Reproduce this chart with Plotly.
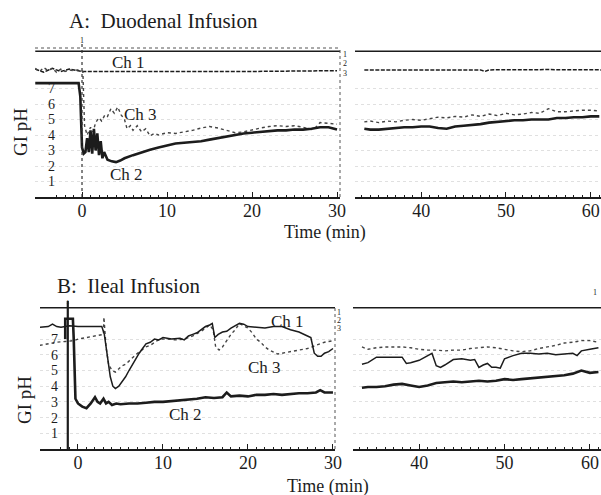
import plotly.graph_objects as go

# ---------------- data ----------------
# Panel A: Duodenal infusion, left segment (-5 .. 30 min)
a_ch2_t = [-5.5, -0.4, -0.2, 0.0, 0.2, 0.4, 0.6, 0.8, 1.0, 1.2,
           1.4, 1.6, 1.8, 2.0, 2.2, 2.4, 2.6, 3.0, 3.5, 4.0,
           4.5, 5.0, 6, 7, 8, 9, 10, 11, 12, 13,
           14, 15, 16, 17, 18, 19, 20, 21, 22, 23,
           24, 25, 26, 27, 28, 29, 30]
a_ch2 = [7.35, 7.35, 6.5, 3.2, 2.8, 2.9, 3.8, 2.9, 4.3, 2.8,
         4.4, 3.0, 4.1, 2.7, 3.6, 2.5, 2.9, 2.4, 2.3, 2.25,
         2.35, 2.5, 2.7, 2.9, 3.05, 3.2, 3.35, 3.45, 3.5, 3.55,
         3.6, 3.7, 3.8, 3.9, 4.0, 4.1, 4.15, 4.2, 4.25, 4.3,
         4.3, 4.35, 4.35, 4.4, 4.5, 4.5, 4.35]
a_ch3_t = [-5.5, -5, -4.5, -4, -3.5, -3, -2.5, -2, -1.5, -1,
           -0.5, 0.1, 0.3, 0.6, 1.0, 1.3, 1.6, 2.0, 2.3, 2.7,
           3.0, 3.4, 3.8, 4.2, 4.6, 5.0, 5.3, 5.7, 6.0, 6.5,
           7.0, 7.5, 8.0, 8.5, 9, 10, 11, 12, 13, 14,
           15, 16, 17, 18, 19, 20, 21, 22, 23, 24,
           25, 26, 27, 27.5, 28, 29, 30]
a_ch3 = [8.3, 8.1, 8.35, 8.15, 8.3, 8.05, 8.25, 8.1, 8.2, 8.15,
         8.2, 8.1, 4.6, 4.0, 4.5, 4.2, 4.8, 5.1, 4.9, 5.3,
         5.2, 5.7, 5.4, 5.8, 5.3, 5.0, 4.4, 4.6, 4.3, 4.6,
         4.2, 4.4, 3.95, 4.1, 4.0, 4.15, 4.1, 4.2, 4.3, 4.45,
         4.55, 4.45, 4.3, 4.15, 4.2, 4.35, 4.45, 4.55, 4.6, 4.55,
         4.6, 4.5, 4.35, 4.5, 4.8, 4.75, 4.7]
a_ch1_t = [-5.5, -4.5, -3.5, -2.5, -1.5, -0.5, 0, 5, 10, 15, 20, 25, 30]
a_ch1 = [8.25, 8.05, 8.3, 8.1, 8.25, 8.15, 8.1, 8.1, 8.12, 8.1, 8.1, 8.12, 8.15]

# Panel A right segment (33 .. 61 min)
late_t = [33.3, 34, 35, 36, 37, 38, 39, 40, 41, 42,
          43, 44, 45, 46, 47, 48, 49, 50, 51, 52,
          53, 54, 55, 56, 57, 58, 59, 60, 61]
a_ch2_late = [4.4, 4.35, 4.35, 4.4, 4.45, 4.5, 4.5, 4.55, 4.55, 4.45,
              4.4, 4.55, 4.6, 4.65, 4.7, 4.8, 4.85, 4.9, 4.95, 4.95,
              5.0, 5.0, 5.0, 5.1, 5.1, 5.15, 5.15, 5.2, 5.2]
a_ch3_late = [4.85, 4.9, 4.8, 4.9, 4.85, 4.95, 5.0, 4.95, 5.05, 5.15,
              5.1, 5.2, 5.15, 5.3, 5.2, 5.35, 5.25, 5.4, 5.3, 5.35,
              5.45, 5.4, 5.7, 5.5, 5.5, 5.55, 5.6, 5.6, 5.55]
a_ch1_late_t = [33.3, 40, 47, 47.5, 48, 55, 61.5]
a_ch1_late = [8.2, 8.22, 8.2, 8.1, 8.2, 8.22, 8.2]

# Panel B: Ileal infusion, left segment
b_ch1_t = [-4.5, -3.5, -3, -2.5, -2, -1, 0, 1, 2, 2.8,
           3.1, 3.4, 3.8, 4.1, 4.4, 4.8, 5.2, 5.6, 6.0, 6.4,
           6.8, 7.2, 7.6, 8.0, 8.5, 9.0, 9.5, 10, 11, 12,
           12.5, 13, 13.5, 14, 14.5, 15, 15.5, 15.8, 16.1, 16.5,
           17, 17.5, 18, 18.5, 19, 19.5, 20, 21, 22, 23,
           24, 25, 26, 27, 27.4, 27.8, 28.2, 28.6, 29, 29.5,
           30]
b_ch1 = [7.75, 7.8, 7.95, 7.8, 7.75, 7.85, 7.8, 7.8, 7.82, 7.8,
         7.3, 6.2, 4.6, 4.0, 3.85, 4.0, 4.3, 4.6, 5.0, 5.4,
         5.8, 6.1, 6.4, 6.7, 6.8, 7.0, 6.95, 7.1, 7.0, 7.05,
         6.95, 7.2, 7.3, 7.4, 7.6, 7.8, 7.9, 8.0, 7.1, 7.3,
         7.45, 7.5, 7.7, 7.85, 8.0, 7.95, 7.8, 7.75, 7.7, 7.8,
         7.8, 7.6, 7.45, 7.2, 7.1, 6.1, 5.9, 5.9, 6.1, 6.2,
         6.4]
b_ch3_t = [-4.5, -3.5, -2.5, -1.5, -0.5, 0, 1, 2, 2.6, 3.0,
           3.05, 3.3, 3.6, 4.0, 4.4, 4.8, 5.2, 5.6, 6.0, 6.5,
           7.0, 7.5, 8.0, 8.5, 9.0, 9.6, 10.5, 11.5, 12.5, 13.5,
           14.5, 15.0, 15.5, 15.9, 16.2, 16.6, 17.0, 17.5, 18.0, 18.5,
           19.0, 19.5, 20.0, 20.5, 21.0, 21.5, 22.0, 22.5, 23.0, 23.5,
           24, 25, 26, 27, 28, 29, 30]
b_ch3 = [6.6, 6.7, 6.8, 6.85, 6.9, 7.0, 7.1, 7.2, 7.3, 7.3,
         8.4, 6.5, 5.4, 5.0, 4.9, 5.1, 5.3, 5.4, 5.6, 5.9,
         6.1, 6.3, 6.5, 6.6, 6.8, 7.0, 7.0, 6.95, 7.0, 7.2,
         7.5, 7.7, 7.9, 7.6, 6.5, 6.3, 6.5, 6.9, 7.3, 7.6,
         8.0, 7.85, 7.7, 7.4, 7.0, 6.8, 6.5, 6.3, 6.15, 6.05,
         6.1, 6.2, 6.3, 6.4, 6.6, 6.8, 6.9]
b_ch2_t = [-1.5, -1.5, -0.6, -0.5, -0.3, 0, 0.5, 1.0, 1.5, 2.0,
           2.3, 2.6, 3.0, 3.3, 3.6, 4.0, 4.5, 5, 6, 7,
           8, 9, 10, 11, 12, 13, 14, 15, 16, 17,
           17.5, 18, 19, 20, 21, 22, 23, 24, 25, 26,
           27, 28, 28.5, 29, 30]
b_ch2 = [7.0, 8.3, 8.3, 7.0, 3.2, 2.9, 2.7, 2.6, 2.9, 3.3,
         3.0, 2.9, 3.2, 2.9, 3.0, 2.8, 2.9, 2.85, 2.9, 2.9,
         2.95, 3.0, 3.0, 3.05, 3.1, 3.15, 3.2, 3.3, 3.25, 3.3,
         3.6, 3.35, 3.4, 3.35, 3.45, 3.45, 3.5, 3.45, 3.5, 3.55,
         3.55, 3.6, 3.75, 3.6, 3.6]

# Panel B right segment
b_ch1_late_t = [33.3, 34, 35, 36, 37, 38, 38.5, 39, 40, 41,
                41.5, 42, 42.5, 43, 44, 45, 46, 46.5, 47, 47.5,
                48, 48.5, 49, 49.5, 50, 51, 52, 53, 54, 55,
                56, 57, 58, 58.5, 59, 60, 61]
b_ch1_late = [5.4, 5.5, 5.85, 5.85, 5.85, 5.85, 5.45, 5.5, 5.65, 5.95,
              6.1, 5.3, 5.2, 5.35, 5.7, 5.75, 5.65, 5.7, 5.2, 5.35,
              5.45, 5.2, 5.2, 5.15, 5.75, 5.95, 6.1, 6.1, 6.05, 6.1,
              6.0, 6.05, 6.1, 5.95, 6.25, 6.35, 6.45]
b_ch3_late = [6.5, 6.35, 6.45, 6.5, 6.5, 6.5, 6.45, 6.35, 6.3, 6.3,
              6.25, 6.3, 6.3, 6.4, 6.45, 6.5, 6.45, 6.35, 6.25, 6.2,
              6.25, 6.4, 6.5, 6.6, 6.75, 6.8, 6.9, 6.9, 6.8]
b_ch2_late = [3.9, 3.95, 3.95, 4.0, 4.1, 4.15, 4.05, 3.95, 4.05, 4.2,
              4.25, 4.3, 4.25, 4.3, 4.35, 4.3, 4.35, 4.45, 4.4, 4.45,
              4.5, 4.55, 4.6, 4.65, 4.7, 4.8, 5.0, 4.85, 4.9]

# event / marker channel levels and infusion times
marker_level_A = 9.4
marker_level_B = 9.0
infusion_A = 0.0
infusion_B = -1.2

ph_ticks = [1, 2, 3, 4, 5, 6, 7]
time_ticks_early = [0, 10, 20, 30]
time_ticks_late = [40, 50, 60]

# ---------------- figure ----------------
W, H = 601, 495
SERIF = "Liberation Serif, Times New Roman, serif"
INK = "#1c1c1c"


def px_x(p):
    return p / W


def px_y(p):
    return 1 - p / H


fig = go.Figure()


def line(x, y, xa, ya, width, dash="solid", color=INK):
    fig.add_trace(go.Scatter(x=x, y=y, xaxis=xa, yaxis=ya, mode="lines",
                             line=dict(color=color, width=width, dash=dash),
                             showlegend=False, hoverinfo="skip"))


# Panel A
line([-5.5, 30.35], [marker_level_A] * 2, "x", "y", 1.6)
line([32.2, 61.5], [marker_level_A] * 2, "x2", "y2", 1.6)
line(a_ch1_t, a_ch1, "x", "y", 1.5, "4px,1.5px")
line(a_ch1_late_t, a_ch1_late, "x2", "y2", 1.5, "4px,1.5px")
line(a_ch3_t, a_ch3, "x", "y", 1.4, "dot", "#444")
line(late_t, a_ch3_late, "x2", "y2", 1.4, "dot", "#444")
line(a_ch2_t, a_ch2, "x", "y", 2.6)
line(late_t, a_ch2_late, "x2", "y2", 2.6)

# Panel B
line([-4.5, 30.3], [marker_level_B] * 2, "x3", "y3", 1.6)
line([32.2, 61.5], [marker_level_B] * 2, "x4", "y4", 1.6)
line(b_ch3_t, b_ch3, "x3", "y3", 1.4, "dot", "#444")
line(late_t, b_ch3_late, "x4", "y4", 1.4, "dot", "#444")
line(b_ch1_t, b_ch1, "x3", "y3", 1.5)
line(b_ch1_late_t, b_ch1_late, "x4", "y4", 1.5)
line(b_ch2_t, b_ch2, "x3", "y3", 2.6)
line(late_t, b_ch2_late, "x4", "y4", 2.6)

font_tick = dict(family=SERIF, size=18, color=INK)
font_ytick = dict(family=SERIF, size=14, color=INK)

xcommon = dict(showline=True, linecolor=INK, linewidth=1.5, ticks="inside",
               ticklen=5, tickcolor=INK, tickwidth=1.2, showgrid=False,
               zeroline=False, tickfont=font_tick, automargin=False,
               ticklabeloverflow="allow", ticklabelstandoff=-3,
               minor=dict(dtick=1, ticks="inside", ticklen=2, tickcolor=INK))
ycommon = dict(showline=False, ticks="", zeroline=False, showgrid=True,
               gridcolor="#e0e0e0", griddash="dot", gridwidth=1,
               tickvals=ph_ticks, automargin=False)

yA = [px_y(197), px_y(48)]
yB = [px_y(449), px_y(306)]
rA = [0, (197 - 48) / 15.5]
rB = [0, (449 - 306) / 15.7]

fig.update_layout(
    width=W, height=H, autosize=False,
    margin=dict(l=0, r=0, t=0, b=0),
    paper_bgcolor="white", plot_bgcolor="white",
    font=dict(family=SERIF, color=INK),
    xaxis=dict(domain=[px_x(35), px_x(340)], range=[-5.53, 30.35], anchor="y",
               tickvals=time_ticks_early, **xcommon),
    xaxis2=dict(domain=[px_x(355), 1], range=[32.2, 61.2], anchor="y2",
                tickvals=time_ticks_late, **xcommon),
    xaxis3=dict(domain=[px_x(40), px_x(335)], range=[-4.47, 30.24], anchor="y3",
                tickvals=time_ticks_early, **xcommon),
    xaxis4=dict(domain=[px_x(353), 1], range=[32.25, 61.3], anchor="y4",
                tickvals=time_ticks_late, **xcommon),
    yaxis=dict(domain=yA, range=rA, anchor="x", ticklabelposition="inside",
               ticklabelstandoff=10, tickfont=font_ytick, **ycommon),
    yaxis2=dict(domain=yA, range=rA, anchor="x2", showticklabels=False, **ycommon),
    yaxis3=dict(domain=yB, range=rB, anchor="x3", ticklabelposition="inside",
                ticklabelstandoff=8, tickfont=font_ytick, **ycommon),
    yaxis4=dict(domain=yB, range=rB, anchor="x4", showticklabels=False, **ycommon),
)

# frames (dotted top / right borders of the early segments)
fig.add_shape(type="line", xref="x domain", yref="y domain", x0=0, x1=1, y0=1, y1=1,
              line=dict(color="#555", width=1, dash="dot"))
fig.add_shape(type="line", xref="x domain", yref="y domain", x0=1, x1=1, y0=0, y1=1,
              line=dict(color="#555", width=1, dash="dot"))
fig.add_shape(type="line", xref="x3 domain", yref="y3 domain", x0=1, x1=1, y0=0, y1=1,
              line=dict(color="#555", width=1, dash="dot"))

# infusion markers
fig.add_shape(type="line", xref="x", yref="paper", x0=infusion_A, x1=infusion_A,
              y0=px_y(197), y1=px_y(41), line=dict(color="#333", width=1.2, dash="dot"))
fig.add_shape(type="line", xref="x3", yref="paper", x0=infusion_B, x1=infusion_B,
              y0=px_y(449), y1=px_y(301), line=dict(color=INK, width=2.2))

annos = []


def txt(text, x, y, xref, yref, size, angle=0, **kw):
    annos.append(dict(text=text, x=x, y=y, xref=xref, yref=yref, showarrow=False,
                      font=dict(family=SERIF, size=size, color=INK),
                      textangle=angle, xanchor="center", yanchor="middle", **kw))


# titles
txt("A:\u00a0 Duodenal Infusion", px_x(163), px_y(21), "paper", "paper", 21)
txt("B:\u00a0 Ileal Infusion", px_x(128), px_y(286), "paper", "paper", 21)
# axis titles
txt("GI pH", px_x(21), px_y(132), "paper", "paper", 19, -90)
txt("GI pH", px_x(24), px_y(400), "paper", "paper", 19, -90)
txt("Time (min)", px_x(325), px_y(232), "paper", "paper", 18)
txt("Time (min)", px_x(328), px_y(486), "paper", "paper", 18)
# channel labels
txt("Ch 1", 5.5, 8.65, "x", "y", 17)
txt("Ch 3", 6.9, 5.3, "x", "y", 17)
txt("Ch 2", 5.2, 1.45, "x", "y", 17)
txt("Ch 1", 24.6, 8.1, "x3", "y3", 17)
txt("Ch 3", 22.0, 5.2, "x3", "y3", 17)
txt("Ch 2", 12.6, 2.2, "x3", "y3", 17)
# small channel-index marks
txt("1", infusion_A, px_y(41), "x", "paper", 8)
txt("1", infusion_B, px_y(302), "x3", "paper", 7)
for i, yy in enumerate([54, 64, 73]):
    txt(str(i + 1), px_x(345), px_y(yy), "paper", "paper", 8)
for i, yy in enumerate([312, 320, 328]):
    txt(str(i + 1), px_x(339), px_y(yy), "paper", "paper", 8)
txt("1", px_x(595), px_y(292), "paper", "paper", 8)

fig.update_layout(annotations=annos)
# remove the default page margin so the 601x495 figure fills the window exactly
fig.write_html("out.html", config={"displayModeBar": False},
               post_script="document.body.style.margin='0';")
